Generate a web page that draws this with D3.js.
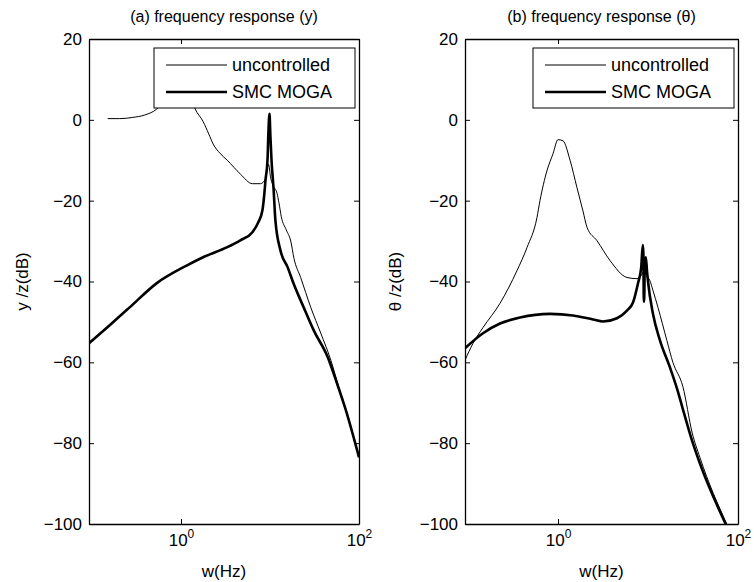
<!DOCTYPE html>
<html><head><meta charset="utf-8">
<script src="https://cdn.jsdelivr.net/npm/d3@7"></script>
<style>
body{margin:0;background:#fff}
text{font-family:"Liberation Sans",Arial,sans-serif;fill:#000}
</style>
</head><body>
<svg id="chart" width="754" height="582"></svg>
<script>
// ---------- data ----------
const yTicks = [-100, -80, -60, -40, -20, 0, 20];
const xTicks = [1, 100];
const xTickExp = ["0", "2"];
const titles = ["(a) frequency response (y)", "(b) frequency response (\u03b8)"];
const yLabels = ["y /z(dB)", "\u03b8 /z(dB)"];
const xLabel = "w(Hz)";
const seriesNames = ["uncontrolled", "SMC MOGA"];

// panel (a): y response
const yUncFreq = [0.150,0.205,0.287,0.392,0.535,0.66,0.79,0.93,1.05,1.2,1.44,1.77,2.05,2.30,2.75,3.31,4.64,6.34,7.81,8.89,9.61,10.2,11.0,12.0,12.6,13.4,15.2,17.1,18.6,22.1,28.7,37.2,48.3,59.4,71.3,100];
const yUncDb   = [0.3,0.3,0.6,1.2,2.7,5,8,10.5,10.5,7.5,2.7,-0.4,-3.5,-6,-8.3,-10,-13.4,-15.8,-15.8,-14.6,-11,-14.5,-16.5,-18.2,-20.5,-24,-27.2,-30,-34.3,-39,-46.4,-52.8,-59.5,-66.2,-72,-83.5];
const yCtrlFreq = [0.0925,0.158,0.265,0.535,1.17,1.77,3.31,4.64,6.34,7.41,8.23,8.66,8.89,9.37,9.6,9.87,10.1,10.4,10.96,11.5,13.1,15.8,18.4,23.9,31.0,44.7,55,71.3,100];
const yCtrlDb   = [-55.3,-50.8,-46.4,-40.4,-36,-34,-31.5,-29.8,-27.8,-25.3,-22.3,-18,-15,-10,-3,1.5,-4,-10,-17,-24.9,-32.3,-36.5,-40.5,-46.4,-52.1,-58.8,-64.4,-71.9,-83.5];

// panel (b): theta response
const tUncFreq = [0.0925,0.1135,0.1466,0.2265,0.350,0.452,0.583,0.63,0.753,0.879,1.0,1.137,1.36,1.62,1.89,2.10,2.71,3.78,5.83,7.54,8.4,9.0,9.5,10.5,11.35,12.9,16.2,18.9,24.4,31,37.7,75];
const tUncDb   = [-59.5,-55.3,-51.4,-45.4,-37.3,-31.6,-24.2,-20,-12.6,-8.4,-4.9,-5.2,-10,-16.7,-22.5,-26.6,-29.9,-34.8,-39,-39.3,-38.5,-37.5,-38.5,-39.8,-42.2,-46.4,-54.6,-60,-66,-77.5,-83.5,-100];
const tCtrlFreq = [0.0925,0.1466,0.2265,0.378,0.813,1.47,2.45,3.16,4.52,5.83,6.81,7.73,8.4,8.75,8.88,8.98,9.08,9.2,9.45,9.75,10.0,11.35,13.6,17.5,21,24,31,37.7,73];
const tCtrlDb   = [-56.5,-52.8,-50.4,-48.9,-48,-48.4,-49.4,-49.9,-49.1,-47.2,-45.2,-40.5,-36.5,-31,-33,-45,-44,-36,-34,-37.5,-40,-48,-54.6,-61.2,-66.5,-71,-79.5,-85,-100];

// ---------- drawing ----------
const svg = d3.select("#chart");
const panels = [
  {x0: 89, x1: 359, unc: [yUncFreq, yUncDb], ctrl: [yCtrlFreq, yCtrlDb], title: titles[0], ylab: yLabels[0], ylabX: 28},
  {x0: 465, x1: 738, unc: [tUncFreq, tUncDb], ctrl: [tCtrlFreq, tCtrlDb], title: titles[1], ylab: yLabels[1], ylabX: 401}
];
const plotTop = 39, plotBottom = 524;
const FS = 17;

panels.forEach((p, i) => {
  const x = d3.scaleLog().domain([0.0925, 100]).range([p.x0, p.x1]);
  const y = d3.scaleLinear().domain([-100, 20]).range([plotBottom, plotTop]);
  const g = svg.append("g");

  const clipId = "clip" + i;
  svg.append("clipPath").attr("id", clipId).append("rect")
    .attr("x", p.x0).attr("y", plotTop).attr("width", p.x1 - p.x0).attr("height", plotBottom - plotTop);

  const line = d3.line().x(d => x(d[0])).y(d => y(d[1])).curve(d3.curveMonotoneX);
  const uncData = p.unc[0].map((f, k) => [f, p.unc[1][k]]);
  const ctrlData = p.ctrl[0].map((f, k) => [f, p.ctrl[1][k]]);

  g.append("path").datum(uncData).attr("d", line).attr("fill", "none")
    .attr("stroke", "#000").attr("stroke-width", 1).attr("clip-path", `url(#${clipId})`);
  g.append("path").datum(ctrlData).attr("d", line).attr("fill", "none")
    .attr("stroke", "#000").attr("stroke-width", 2.6).attr("stroke-linejoin", "round")
    .attr("clip-path", `url(#${clipId})`);

  // axes
  const axL = g.append("g").attr("transform", `translate(${p.x0},0)`)
    .call(d3.axisLeft(y).tickValues(yTicks).tickSize(-5).tickSizeOuter(0).tickPadding(7).tickFormat(d3.format("d")));
  const axR = g.append("g").attr("transform", `translate(${p.x1},0)`)
    .call(d3.axisRight(y).tickValues(yTicks).tickSize(-5).tickSizeOuter(0).tickFormat(""));
  const axB = g.append("g").attr("transform", `translate(0,${plotBottom})`)
    .call(d3.axisBottom(x).tickValues(xTicks).tickSize(-5).tickSizeOuter(0).tickFormat(""));
  const axT = g.append("g").attr("transform", `translate(0,${plotTop})`)
    .call(d3.axisTop(x).tickValues(xTicks).tickSize(-5).tickSizeOuter(0).tickFormat(""));
  [axL, axR, axB, axT].forEach(a => {
    a.select(".domain").attr("stroke", "#000").attr("stroke-width", 1.3);
    a.selectAll(".tick line").attr("stroke", "#000").attr("stroke-width", 1);
    a.selectAll("text").attr("font-size", FS).attr("font-family", '"Liberation Sans",Arial,sans-serif').attr("fill", "#000");
  });

  // x tick labels 10^n
  axB.selectAll(".tick").each(function(d, k) {
    const t = d3.select(this).append("text").attr("y", 22).attr("text-anchor", "middle")
      .attr("font-size", FS).attr("fill", "#000")
      .attr("font-family", '"Liberation Sans",Arial,sans-serif');
    t.append("tspan").text("10");
    t.append("tspan").attr("dy", -8).attr("font-size", 12).text(xTickExp[k]);
  });

  // title, labels
  svg.append("text").attr("x", (p.x0 + p.x1) / 2).attr("y", 22).attr("text-anchor", "middle")
    .attr("font-size", 16).text(p.title);
  svg.append("text").attr("x", (p.x0 + p.x1) / 2).attr("y", 577).attr("text-anchor", "middle")
    .attr("font-size", FS).text(xLabel);
  svg.append("text").attr("transform", `translate(${p.ylabX},${(plotTop + plotBottom) / 2}) rotate(-90)`)
    .attr("text-anchor", "middle").attr("font-size", FS).text(p.ylab);

  // legend
  const lw = 201, lh = 60;
  const lx = p.x1 - 4 - lw, ly = 48;
  const lg = svg.append("g").attr("transform", `translate(${lx},${ly})`);
  lg.append("rect").attr("width", lw).attr("height", lh).attr("fill", "#fff")
    .attr("stroke", "#000").attr("stroke-width", 1);
  seriesNames.forEach((name, k) => {
    const yy = 17 + k * 27;
    lg.append("line").attr("x1", 12).attr("x2", 73).attr("y1", yy).attr("y2", yy)
      .attr("stroke", "#000").attr("stroke-width", k === 0 ? 1 : 2.6);
    lg.append("text").attr("x", 78).attr("y", yy + 6).attr("font-size", 18).text(name);
  });
});
</script>
</body></html>
